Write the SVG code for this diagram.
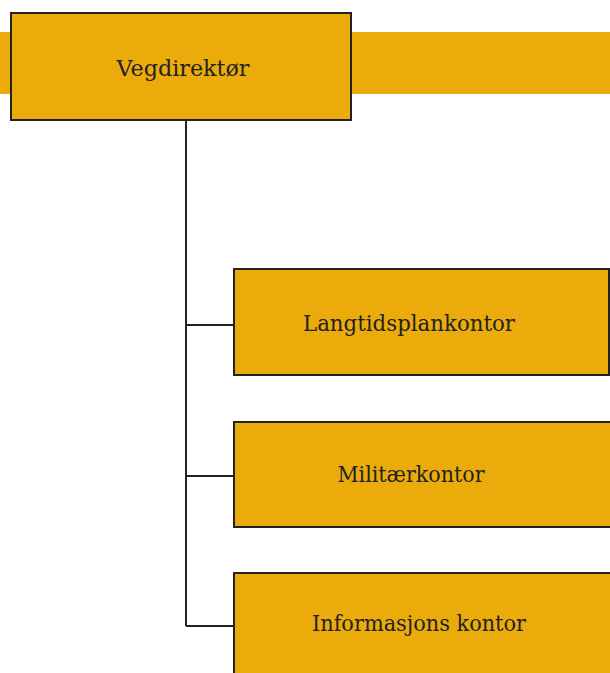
<svg xmlns="http://www.w3.org/2000/svg" width="610" height="673" viewBox="0 0 610 673">
<style>
.box{fill:#EBAC0B;stroke:#222;stroke-width:2}
.lbl{font-family:"DejaVu Serif","Liberation Serif",serif;font-size:22px;fill:#222;text-anchor:middle}
.con{stroke:#222;stroke-width:2;fill:none}
</style>
<rect x="0" y="32" width="610" height="62" fill="#EBAC0B"/>
<g id="connectors">
<path class="con" d="M186,121 V626 M186,325 H234 M186,476 H234 M186,626 H234"/>
</g>
<g id="vegdirektor">
<rect class="box" x="11" y="13" width="340" height="107"/>
<text class="lbl" x="183" y="76" textLength="133" lengthAdjust="spacingAndGlyphs">Vegdirektør</text>
</g>
<g id="langtidsplankontor">
<rect class="box" x="234" y="269" width="375" height="106"/>
<text class="lbl" x="409" y="331" textLength="212" lengthAdjust="spacingAndGlyphs">Langtidsplankontor</text>
</g>
<g id="militaerkontor">
<rect class="box" x="234" y="422" width="390" height="105"/>
<text class="lbl" x="411" y="482" textLength="147" lengthAdjust="spacingAndGlyphs">Militærkontor</text>
</g>
<g id="informasjonskontor">
<rect class="box" x="234" y="573" width="390" height="110"/>
<text class="lbl" x="419" y="631" textLength="214" lengthAdjust="spacingAndGlyphs">Informasjons kontor</text>
</g>
</svg>
